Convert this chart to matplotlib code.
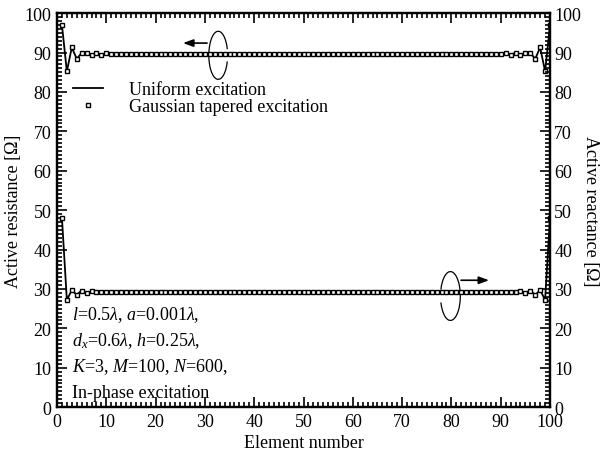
import numpy as np
import matplotlib
matplotlib.use('Agg')
import matplotlib.pyplot as plt
from matplotlib.patches import Arc
from matplotlib.ticker import MultipleLocator

plt.rcParams['font.family'] = ['Liberation Serif', 'DejaVu Serif']
plt.rcParams['mathtext.fontset'] = 'custom'
plt.rcParams['mathtext.rm'] = 'Liberation Serif'
plt.rcParams['mathtext.it'] = 'Liberation Serif:italic'

# element index 1..100
element = np.arange(1, 101)

# active resistance (left axis)
resistance_uniform = [97.0, 85.2, 91.3, 88.4, 89.9, 89.8, 89.4, 89.9, 89.5, 89.8,
                      89.6, 89.7, 89.6, 89.7, 89.7, 89.6, 89.7, 89.7, 89.6, 89.7,
                      89.7, 89.7, 89.6, 89.7, 89.7, 89.7, 89.7, 89.6, 89.7, 89.7,
                      89.7, 89.7, 89.7, 89.7, 89.7, 89.7, 89.7, 89.7, 89.7, 89.7,
                      89.7, 89.7, 89.7, 89.7, 89.7, 89.7, 89.7, 89.7, 89.7, 89.7,
                      89.7, 89.7, 89.7, 89.7, 89.7, 89.7, 89.7, 89.7, 89.7, 89.7,
                      89.7, 89.7, 89.7, 89.7, 89.7, 89.7, 89.7, 89.7, 89.7, 89.7,
                      89.7, 89.7, 89.6, 89.7, 89.7, 89.7, 89.7, 89.6, 89.7, 89.7,
                      89.7, 89.6, 89.7, 89.7, 89.6, 89.7, 89.7, 89.6, 89.7, 89.6,
                      89.8, 89.5, 89.9, 89.4, 89.8, 89.9, 88.4, 91.3, 85.2, 97.0]
resistance_gauss = list(resistance_uniform)

# active reactance (right axis)
reactance_uniform = [48.0, 27.2, 29.7, 28.5, 29.6, 29.0, 29.4, 29.1, 29.3, 29.2,
                     29.2, 29.3, 29.2, 29.2, 29.2, 29.2, 29.2, 29.2, 29.2, 29.2,
                     29.2, 29.2, 29.2, 29.2, 29.2, 29.2, 29.2, 29.2, 29.2, 29.2,
                     29.2, 29.2, 29.2, 29.2, 29.2, 29.2, 29.2, 29.2, 29.2, 29.2,
                     29.2, 29.2, 29.2, 29.2, 29.2, 29.2, 29.2, 29.2, 29.2, 29.2,
                     29.2, 29.2, 29.2, 29.2, 29.2, 29.2, 29.2, 29.2, 29.2, 29.2,
                     29.2, 29.2, 29.2, 29.2, 29.2, 29.2, 29.2, 29.2, 29.2, 29.2,
                     29.2, 29.2, 29.2, 29.2, 29.2, 29.2, 29.2, 29.2, 29.2, 29.2,
                     29.2, 29.2, 29.2, 29.2, 29.2, 29.2, 29.2, 29.2, 29.2, 29.3,
                     29.2, 29.3, 29.1, 29.4, 29.0, 29.6, 28.5, 29.7, 27.2, 48.0]
reactance_gauss = list(reactance_uniform)

param_lines = [r'$l$=0.5$\lambda$, $a$=0.001$\lambda$,',
               r'$d_x$=0.6$\lambda$, $h$=0.25$\lambda$,',
               r'$K$=3, $M$=100, $N$=600,',
               'In-phase excitation']

fs = 13
fig = plt.figure(figsize=(6, 4.56), dpi=100)
ax = fig.add_axes([0.095, 0.105, 0.8217, 0.864])
ax2 = ax.twinx()

ax.plot(element, resistance_uniform, color='black', lw=1.3, label='Uniform excitation')
ax.plot(element, resistance_gauss, ls='none', marker='s', ms=3.0, mfc='white', mec='black',
        mew=1.0, label='Gaussian tapered excitation')
ax2.plot(element, reactance_uniform, color='black', lw=1.3)
ax2.plot(element, reactance_gauss, ls='none', marker='s', ms=3.0, mfc='white', mec='black', mew=1.0)

for a in (ax, ax2):
    a.set_xlim(0, 100)
    a.set_ylim(0, 100)
    a.yaxis.set_major_locator(MultipleLocator(10))
    a.yaxis.set_minor_locator(MultipleLocator(1))
    for s in a.spines.values():
        s.set_linewidth(1.6)
ax.xaxis.set_major_locator(MultipleLocator(10))
ax.xaxis.set_minor_locator(MultipleLocator(1))

ax.tick_params(which='both', direction='in', top=True, right=False, labelsize=fs, width=1.2)
ax.tick_params(which='major', length=7, pad=4)
ax.tick_params(which='minor', length=3.5)
ax2.tick_params(which='both', direction='in', labelsize=fs, width=1.2)
ax2.tick_params(which='major', length=7, pad=3)
ax2.tick_params(which='minor', length=3.5)

ax.set_xlabel('Element number', fontsize=fs, labelpad=3)
ax.set_ylabel('Active resistance [Ω]', fontsize=fs, labelpad=2)
ax2.set_ylabel('Active reactance [Ω]', fontsize=fs, rotation=270, labelpad=13)

ax.legend(loc='upper left', bbox_to_anchor=(0.01, 0.855), frameon=False, fontsize=fs,
          handlelength=1.7, handletextpad=1.4, labelspacing=0.0, numpoints=1,
          borderaxespad=0.2)

# curve-to-axis indicators
ax.add_patch(Arc((32.7, 89.3), 3.8, 12.2, theta1=40, theta2=320, color='black', lw=0.9))
ax.annotate('', xy=(25.0, 92.4), xytext=(31.0, 92.4),
            arrowprops=dict(arrowstyle='-|>,head_length=0.6,head_width=0.22', color='black', lw=1.2))
ax.add_patch(Arc((79.8, 28.2), 4.0, 12.4, theta1=-140, theta2=140, color='black', lw=0.9))
ax.annotate('', xy=(88.2, 32.2), xytext=(81.4, 32.2),
            arrowprops=dict(arrowstyle='-|>,head_length=0.6,head_width=0.22', color='black', lw=1.2))

for i, t in enumerate(param_lines):
    ax.text(0.03, 0.236 - i * 0.066, t, transform=ax.transAxes, fontsize=fs, va='center', ha='left')

fig.savefig('out.png', dpi=100)
